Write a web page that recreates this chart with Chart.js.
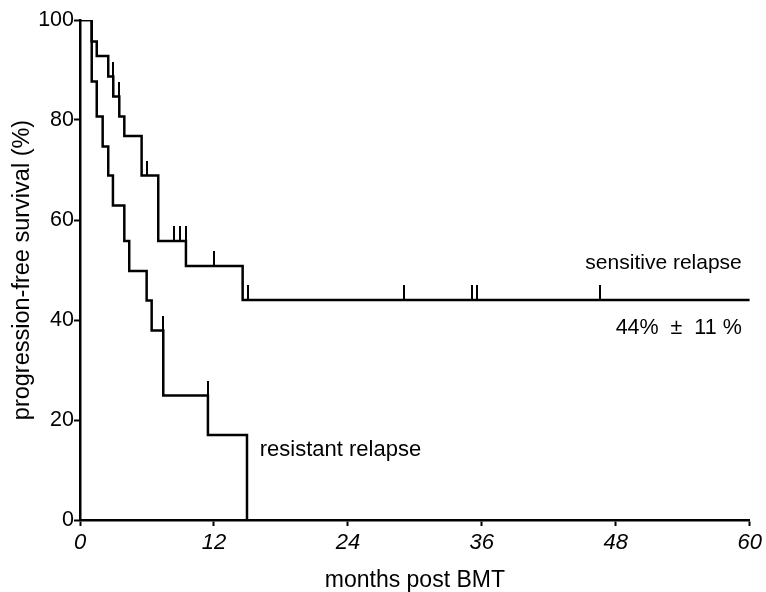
<!DOCTYPE html>
<html>
<head>
<meta charset="utf-8">
<script src="https://cdn.jsdelivr.net/npm/chart.js@4.4.1/dist/chart.umd.min.js"></script>
<style>
  html, body { margin: 0; padding: 0; background: #ffffff; }
  #wrap { width: 766px; height: 592px; }
</style>
</head>
<body>
<div id="wrap"><canvas id="c" width="766" height="592"></canvas></div>
<script>
// Kaplan-Meier step data (months, % progression-free)
const sensMonths = [0, 1.05, 1.5, 2.53, 2.98, 3.52, 3.97, 5.52, 7.01, 9.49, 14.57, 60];
const sensPFS    = [100, 95.7, 92.8, 88.7, 84.7, 80.7, 76.8, 68.9, 55.8, 50.8, 44.0, 44.0];
const resMonths  = [0, 1.05, 1.5, 2.03, 2.53, 2.95, 3.97, 4.41, 5.97, 6.42, 7.46, 11.46, 14.96];
const resPFS     = [100, 87.7, 80.7, 74.7, 68.9, 62.9, 55.8, 49.8, 43.9, 37.9, 24.9, 17.0, 0];
// censoring marks
const sensCensorMonths = [2.98, 3.52, 5.97, 8.44, 8.96, 9.49, 12.0, 15.07, 29.0, 35.15, 35.55, 46.6];
const sensCensorPFS    = [88.7, 84.7, 68.9, 55.8, 55.8, 55.8, 50.8, 44.0, 44.0, 44.0, 44.0, 44.0];
const resCensorMonths  = [7.46, 11.46];
const resCensorPFS     = [37.9, 24.9];
// axis ticks
const xTicks = [0, 12, 24, 36, 48, 60];
const yTicks = [0, 20, 40, 60, 80, 100];
// labels
const xTitle = 'months post BMT';
const yTitle = 'progression-free survival (%)';
const sensLabel = 'sensitive relapse';
const sensStat = '44%  \u00B1  11 %';
const resLabel = 'resistant relapse';

const FONT = "'Liberation Sans', Arial, sans-serif";

function toPoints(xs, ys) { return xs.map((x, i) => ({ x: x, y: ys[i] })); }

// censor tick: short vertical stroke rising above the curve level
const tickImg = document.createElement('canvas');
tickImg.width = 2; tickImg.height = 30;
(function () {
  const g = tickImg.getContext('2d');
  g.fillStyle = '#000';
  g.fillRect(0, 0, 2, 15);
})();

const annotations = {
  id: 'annotations',
  afterDraw(chart) {
    const { ctx, scales: { x, y } } = chart;
    ctx.save();
    ctx.fillStyle = '#000';
    ctx.textBaseline = 'middle';
    ctx.textAlign = 'right';
    ctx.font = '21px ' + FONT;
    ctx.fillText(sensLabel, x.right - 8, y.getPixelForValue(51.4));
    ctx.font = '21.5px ' + FONT;
    ctx.fillText(sensStat, x.right - 8, y.getPixelForValue(38.4));
    ctx.textAlign = 'left';
    ctx.font = '22px ' + FONT;
    ctx.fillText(resLabel, x.getPixelForValue(16.1), y.getPixelForValue(14));
    ctx.restore();
  }
};

new Chart(document.getElementById('c'), {
  type: 'line',
  data: {
    datasets: [
      {
        data: toPoints(sensMonths, sensPFS),
        stepped: 'before',
        borderColor: '#000',
        borderWidth: 2.5,
        borderJoinStyle: 'miter',
        pointRadius: 0,
        fill: false
      },
      {
        data: toPoints(resMonths, resPFS),
        stepped: 'before',
        borderColor: '#000',
        borderWidth: 2.5,
        borderJoinStyle: 'miter',
        pointRadius: 0,
        fill: false
      },
      {
        data: toPoints(sensCensorMonths, sensCensorPFS),
        showLine: false,
        pointStyle: tickImg,
        pointRadius: 15
      },
      {
        data: toPoints(resCensorMonths, resCensorPFS),
        showLine: false,
        pointStyle: tickImg,
        pointRadius: 15
      }
    ]
  },
  options: {
    responsive: false,
    animation: false,
    events: [],
    layout: { padding: { top: 20, right: 16, left: 0, bottom: 0 } },
    plugins: { legend: { display: false }, tooltip: { enabled: false } },
    scales: {
      x: {
        type: 'linear',
        min: 0, max: 60,
        afterFit(s) { s.height = 72; },
        afterBuildTicks(s) { s.ticks = xTicks.map(v => ({ value: v })); },
        border: { display: true, color: '#000', width: 2.5 },
        grid: { display: true, drawOnChartArea: false, drawTicks: true, tickLength: 6, tickColor: '#000', tickWidth: 2 },
        ticks: {
          color: '#000',
          padding: 4,
          maxRotation: 0,
          font: { family: FONT, size: 22, style: 'italic' }
        },
        title: {
          display: true, text: xTitle, color: '#000',
          font: { family: FONT, size: 23, lineHeight: 1 },
          padding: { top: 0, bottom: 0 }
        }
      },
      y: {
        type: 'linear',
        min: 0, max: 100,
        afterFit(s) { s.width = 80; },
        afterBuildTicks(s) { s.ticks = yTicks.map(v => ({ value: v })); },
        border: { display: true, color: '#000', width: 2.5 },
        grid: { display: true, drawOnChartArea: false, drawTicks: true, tickLength: 6, tickColor: '#000', tickWidth: 2 },
        ticks: {
          color: '#000',
          padding: 0,
          font: { family: FONT, size: 21.5 }
        },
        title: {
          display: true, text: yTitle, color: '#000',
          font: { family: FONT, size: 23.5, lineHeight: 1 },
          padding: { top: 11, bottom: 0 }
        }
      }
    }
  },
  plugins: [annotations]
});
</script>
</body>
</html>
